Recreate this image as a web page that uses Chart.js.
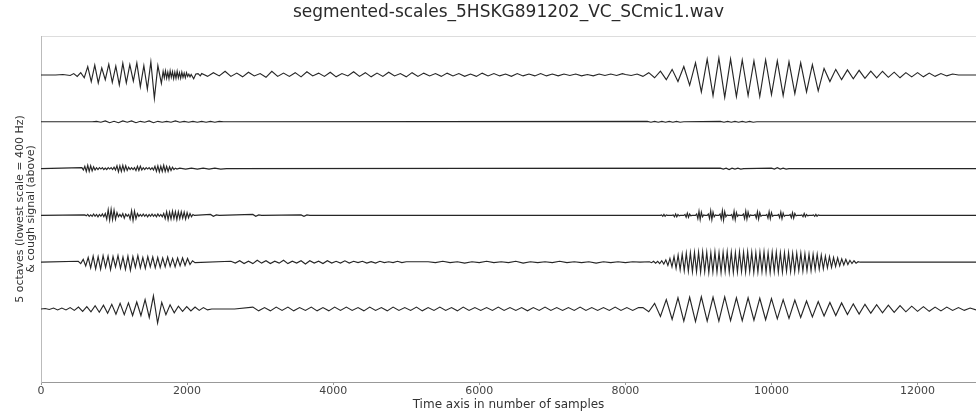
<!DOCTYPE html>
<html><head><meta charset="utf-8">
<script src="https://cdn.jsdelivr.net/npm/chart.js@4"></script>
<style>html,body{margin:0;padding:0;background:#fff}#wrap{width:976px;height:412px}</style>
</head><body><div id="wrap"><canvas id="c" width="976" height="412"></canvas></div>
<script>
const chartTitle = 'segmented-scales_5HSKG891202_VC_SCmic1.wav';
const xTitle = 'Time axis in number of samples';
const yTitle = ['5 octaves (lowest scale = 400 Hz)', '& cough signal (above)'];
const xTicks = [0, 2000, 4000, 6000, 8000, 10000, 12000];
const xMax = 12800;
const traceOffsets = [0, -1, -2, -3, -4, -5];

// Each segment: [first sample, sample step, values in hundredths of the trace spacing]
// Trace 1: cough signal
const t1a = [0, 100, [0,0,0,1,-1]];
const t1b = [448, 48, [3,-3,5,-6,18,-14,21,-17,15,-10,23,-16,19,-21,25,-17,22,-13,26,-25,20,-30,28,-50,20,-18]];
const t1c = [1672, 16, [8,-6,9,-7,6,-8,9,-5,7,-8,6,-7,8,-6,5,-7,6,-5,4,-6,5,-3,2,-4,1]];
const t1d = [2090, 30, [-8,2,3,-2]];
const t1e = [2200, 80, [3,-3,5,-2,8,-3,4,-4,6,-2,3,-5,8,-3,4,-3,5,-4,7,-2,
  4,-3,6,-4,3,-2,7,-3,5,-4,4,-3,6,-2,3,-4,5,-3,4,-2,
  3,-3,4,-2,3,-3,2,-3,4,-2,3,-2,2,-3,3,-2,2,-2,3,-2,
  2,-2,2,-1,2,-2,1,-2,2,-1,2,-1,3]];
const t1f = [8000, 80, [1,-1,2,-3,5,-6,8,-10,12,-14,18,-22,26,-36,34,-44,36,-48,34,-46,
  32,-44,30,-46,32,-42,30,-44,28,-40,26,-36,22,-34,14,-14,12,-10,11,-8,
  10,-7,8,-6,8,-5,6,-6,5,-4,5,-4,4,-3,3,-2,2,0,0,0,0]];

// Trace 2
const t2a = [0, 700, [0,0]];
const t2b = [760, 60, [1,-1,2,-2,1,-2,2,-1,2,-2,1,-1,2,-2,1,-1,1,-1,2,-1,1,-1,1,-1,1,-1,1,-1,1,0]];
const t2c = [8300, 50, [1,-1,1,-1,1,-1,1,-1,1,-1,0]];
const t2d = [9300, 50, [1,-1,1,-1,1,-1,1,-1,1,-1,0]];
const t2e = [12800, 1, [0]];

// Trace 3
const t3a = [0, 560, [0]];
const t3b = [560, 20, [2,-3,5,-6,7,-6,6,-5,4,-3,
  2,-2,2,-1,2,-2,1,-2,2,-1,2,-2,3,-3,
  6,-7,6,-6,7,-5,6,-4,3,
  -2,2,-2,2,
  -4,5,-4,5,-3,2,
  -2,2,-1,2,-2,2,-3,
  5,-6,6,-7,5,-6,7,-6,5,-6,4,-4,3,
  -2,1,-1]];
const t3c = [1900, 80, [1,-1,1,-1,1,-1,1,-1,0]];
const t3d = [9300, 40, [1,-1,1,-2,1,-1,1,-1,0]];
const t3e = [10000, 40, [1,-1,2,-1,1,-1,0]];
const t3f = [12800, 1, [0]];

// Trace 4
const t4a = [0, 600, [0]];
const t4b = [600, 20, [1,-1,2,-2,1,-2,3,-2,2,-3,2,-2,3,-3,4,
  -8,12,-10,13,-9,11,-8,6,-3,
  2,-3,4,-6,3,-2,2,
  -8,10,-11,9,-7,4,-2,
  2,-2,3,-2,2,-3,2,-2,3,-2,2,-3,3,-2,2,-3,4,
  -7,8,-9,7,-8,9,-7,8,-9,8,-7,8,-6,7,-8,6,-5,4,-3,2,
  0]];
const t4c = [2320, 40, [2,-2,1,0]];
const t4d = [2900, 40, [2,-2,1,0]];
const t4e = [3560, 40, [1,-2,1,0]];
const t4f = [8480, 16, [
  0,1,-2,2,-2,1,0,0,0,0,
  0,1,-3,3,-3,2,-1,0,0,0,
  0,2,-4,5,-4,3,-1,0,0,0,
  0,3,-7,9,-9,7,-3,1,0,0,
  0,3,-7,10,-9,7,-3,1,0,0,
  0,3,-8,10,-10,8,-3,1,0,0,
  0,2,-7,9,-9,6,-2,1,0,0,
  0,3,-7,9,-8,7,-3,1,0,0,
  0,2,-6,8,-8,6,-2,0,0,0,
  0,2,-6,8,-7,6,-2,0,0,0,
  0,2,-5,7,-7,5,-2,0,0,0,
  0,2,-5,6,-6,4,-1,0,0,0,
  0,1,-3,4,-3,2,-1,0,0,0,
  0,1,-2,2,-2,1,0,0,0,0]];
const t4g = [12800, 1, [0]];

// Trace 5
const t5a = [0, 510, [0]];
const t5b = [510, 34, [2,-3,6,-8,10,-12,13,-14,12,-15,14,-11,13,-16,12,-10,14,-13,11,-15,13,-17,12,-11,14,-12,10,-13,12,-10,11,-12,10,-11,9,-10,11,-9,8,-10,9,-8,9,-7,8,-5,3,-1]];
const t5c = [2600, 60, [2,-2,3,-3,2,-3,4,-2,3,-3,2,-2,4,-3,2,-2,3,-4,3,-2,2,-3,3,-2,2,-2,3,-2,2,-1,2,-2,1,-2,2,-1,1,-1,2,-1,1]];
const t5d = [5300, 100, [1,-1,2,-1,1,-2,1,-1,2,-1,1,-1,2,-2,1,-1,1,-1,2,-1,1,-1,1,-2,1,-1,1,-1,1,0]];
const t5e = [8330, 28, [1,-1,2,-2,2,-3,3,-4,5,
  -7,8,-10,12,-13,15,-16,17,-18,19,-19,20,-20,21,-20,21,
  -21,22,-20,21,-22,20,-21,22,-21,20,-22,21,-20,22,-21,21,-22,20,-21,22,
  -20,21,-21,22,-20,21,-22,20,-21,21,-20,22,-21,20,-22,21,-20,21,-21,20,
  -21,20,-19,20,-20,19,-20,19,-18,19,-19,18,-18,17,-18,17,-16,17,
  -15,15,-14,13,-12,12,-11,10,-9,9,-8,7,-6,6,-5,4,-3,3,-2,1,0]];
const t5f = [11400, 1400, [0,0]];

// Trace 6
const t6a = [0, 57, [0,1,-1,2,-2,2,-2,3,
  -3,4,-5,5,-6,7,-7,8,
  -9,10,-11,12,-12,13,-14,15,-14,
  20,-18,28,-30,
  14,-12,9,-8,6,
  -5,5,-4,4,-3,3,-2,0]];
const t6b = [2400, 250, [0,0]];
const t6c = [2900, 80, [4,-4,3,-4,4,-3,4,-4,3,-3,4,-4,3,-4,4,-3,4,-3,3,-4,
  4,-3,3,-4,4,-3,3,-3,4,-4,3,-3,4,-3,3,-4,4,-3,3,-3,
  3,-3,4,-3,3,-3,3,-4,3,-3,4,-3,3,-3,3,-3,4,-3,3,-3,
  3,-3,4,-3,3,-3,3]];
const t6d = [8240, 80, [3,-6,12,-16,20,-22,24,-26,25,-27,26,-26,25,-26,26,-25,24,-25,24,-24,
  23,-23,22,-21,20,-20,19,-18,17,-17,16,-15,14,-14,13,-12,11,-11,10,-9,
  9,-8,8,-7,7,-6,6,-5,5,-5,4,-4,4,-3,3,-3,2,-2]];

const traces = [
  [t1a, t1b, t1c, t1d, t1e, t1f],
  [t2a, t2b, t2c, t2d, t2e],
  [t3a, t3b, t3c, t3d, t3e, t3f],
  [t4a, t4b, t4c, t4d, t4e, t4f, t4g],
  [t5a, t5b, t5c, t5d, t5e, t5f],
  [t6a, t6b, t6c, t6d]
];

const datasets = traces.map((segs, k) => ({
  data: segs.flatMap(([start, step, vals]) => vals.map((v, i) => ({x: start + i * step, y: traceOffsets[k] + v / 100}))),
  borderColor: '#262626',
  borderWidth: 1.15,
  pointRadius: 0,
  tension: 0,
  fill: false
}));

const FONT = 'DejaVu Sans';
new Chart(document.getElementById('c'), {
  type: 'line',
  data: { datasets },
  options: {
    responsive: false,
    animation: false,
    devicePixelRatio: 1,
    parsing: false,
    normalized: true,
    layout: { padding: 0 },
    plugins: {
      legend: { display: false },
      tooltip: { enabled: false },
      title: {
        display: true, text: chartTitle, color: '#2a2a2a', fullSize: false,
        font: { family: FONT, size: 17, weight: 'normal' },
        padding: { top: 2.8, bottom: 12.8 }
      }
    },
    scales: {
      x: {
        type: 'linear', min: 0, max: xMax,
        afterBuildTicks: s => { s.ticks = xTicks.map(v => ({ value: v })); },
        afterFit: s => { s.height = 30; },
        ticks: { color: '#444', font: { family: FONT, size: 11 }, padding: 0, maxRotation: 0, autoSkip: false,
                 callback: v => String(v) },
        grid: { display: true, drawOnChartArea: false, tickLength: 3, color: '#999' },
        border: { color: '#999' },
        title: { display: true, text: xTitle, color: '#333', font: { family: FONT, size: 12 }, padding: { top: 0, bottom: 0 } }
      },
      x2: {
        type: 'linear', position: 'top', min: 0, max: xMax,
        ticks: { display: false }, grid: { display: false },
        border: { color: '#ddd' },
        afterFit: s => { s.height = 0; }
      },
      y: {
        type: 'linear', min: -6.56, max: 0.833,
        ticks: { display: false }, grid: { display: false },
        border: { color: '#bbb' },
        afterFit: s => { s.width = 41; },
        title: { display: true, text: yTitle, color: '#333', font: { family: FONT, size: 11, lineHeight: 1.0 }, padding: { top: 14.5, bottom: 0 } }
      }
    }
  }
});
</script></body></html>
